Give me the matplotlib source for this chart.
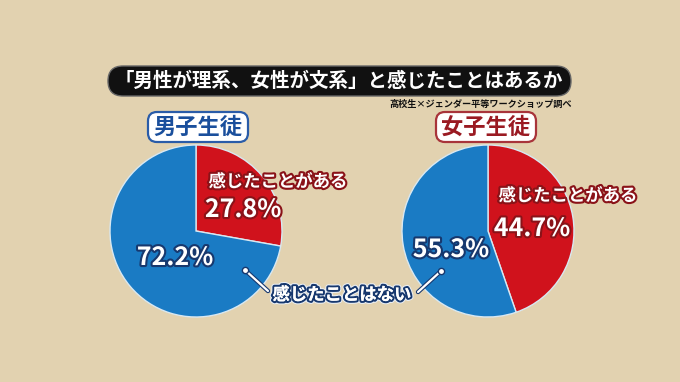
import matplotlib
matplotlib.use("Agg")
import matplotlib.pyplot as plt
import matplotlib.patheffects as pe
from matplotlib.patches import FancyBboxPatch

plt.rcParams['font.family'] = ['Noto Sans CJK JP', 'DejaVu Sans']

# data
title = "「男性が理系、女性が文系」と感じたことはあるか"
source = "高校生×ジェンダー平等ワークショップ調べ"
groups = ["男子生徒", "女子生徒"]
felt = [27.8, 44.7]
not_felt = [72.2, 55.3]
felt_label = "感じたことがある"
not_felt_label = "感じたことはない"

W, H = 680, 382
BG = "#e2d2b0"
RED = "#d0121c"
BLUE = "#1a7bc4"


def Y(py):
    return H - py


fig = plt.figure(figsize=(W / 100, H / 100), dpi=100, facecolor=BG)
ax = fig.add_axes([0, 0, 1, 1])
ax.set_facecolor(BG)

# pies
centers = [(196, 231), (488, 231)]
for i, (cx, cy) in enumerate(centers):
    ax.pie([felt[i], not_felt[i]], colors=[RED, BLUE], startangle=90,
           counterclock=False, center=(cx, Y(cy)), radius=86,
           wedgeprops=dict(edgecolor="#d8e8f2", linewidth=1.0))

ax.set_xlim(0, W)
ax.set_ylim(0, H)
ax.set_aspect("equal")
ax.axis("off")

# title pill
ax.add_patch(FancyBboxPatch((108, Y(96)), 463, 30,
                            boxstyle="round,pad=0,rounding_size=15",
                            facecolor="#111111", edgecolor="#666666",
                            linewidth=1.0))
ax.text(339, Y(81), title, color="white", fontsize=14, fontweight="bold",
        ha="center", va="center")
ax.text(572, Y(104.5), source, color="#111111", fontsize=6.6,
        fontweight="bold", ha="right", va="center")

# group labels
box_styles = [("#1a4f9c", "#2a5ca8"), ("#9a1a22", "#a8343a")]
label_x = [198, 486]
for i, g in enumerate(groups):
    tc, ec = box_styles[i]
    ax.add_patch(FancyBboxPatch((label_x[i] - 50, Y(142)), 100, 30,
                                boxstyle="round,pad=0,rounding_size=9",
                                facecolor="white", edgecolor=ec,
                                linewidth=1.6))
    ax.text(label_x[i], Y(127.5), g, color=tc, fontsize=16,
            fontweight="bold", ha="center", va="center")

red_fx = [pe.withStroke(linewidth=3, foreground="#8a1218")]
blue_fx = [pe.withStroke(linewidth=3, foreground="#17386e")]

# slice labels
ax.text(278, Y(182), felt_label, color="white", fontsize=12.5,
        fontweight="bold", ha="center", va="center", path_effects=red_fx)
ax.text(568, Y(196), felt_label, color="white", fontsize=12.5,
        fontweight="bold", ha="center", va="center", path_effects=red_fx)
ax.text(243, Y(210), f"{felt[0]}%", color="white", fontsize=18,
        fontweight="bold", ha="center", va="center", path_effects=red_fx)
ax.text(532, Y(229), f"{felt[1]}%", color="white", fontsize=18,
        fontweight="bold", ha="center", va="center", path_effects=red_fx)
ax.text(175, Y(258), f"{not_felt[0]}%", color="white", fontsize=18,
        fontweight="bold", ha="center", va="center", path_effects=blue_fx)
ax.text(451, Y(250), f"{not_felt[1]}%", color="white", fontsize=18,
        fontweight="bold", ha="center", va="center", path_effects=blue_fx)

# leader lines
line_fx = [pe.withStroke(linewidth=3.2, foreground="#17386e")]
for (x0, y0), (x1, y1) in [((245, 270), (268, 291)), ((441, 271), (418, 292))]:
    ax.plot([x0, x1], [Y(y0), Y(y1)], color="white", lw=1.6,
            solid_capstyle="round", path_effects=line_fx)
    ax.plot([x0], [Y(y0)], "o", color="white", ms=4.5, mec="#17386e", mew=1)

ax.text(342, Y(295), not_felt_label, color="white", fontsize=12.5,
        fontweight="bold", ha="center", va="center",
        path_effects=[pe.withStroke(linewidth=4.5, foreground="#e8eef5"),
                      pe.withStroke(linewidth=3, foreground="#17386e"),
                      pe.Normal()])

fig.savefig("out.png", dpi=100, facecolor=BG)
